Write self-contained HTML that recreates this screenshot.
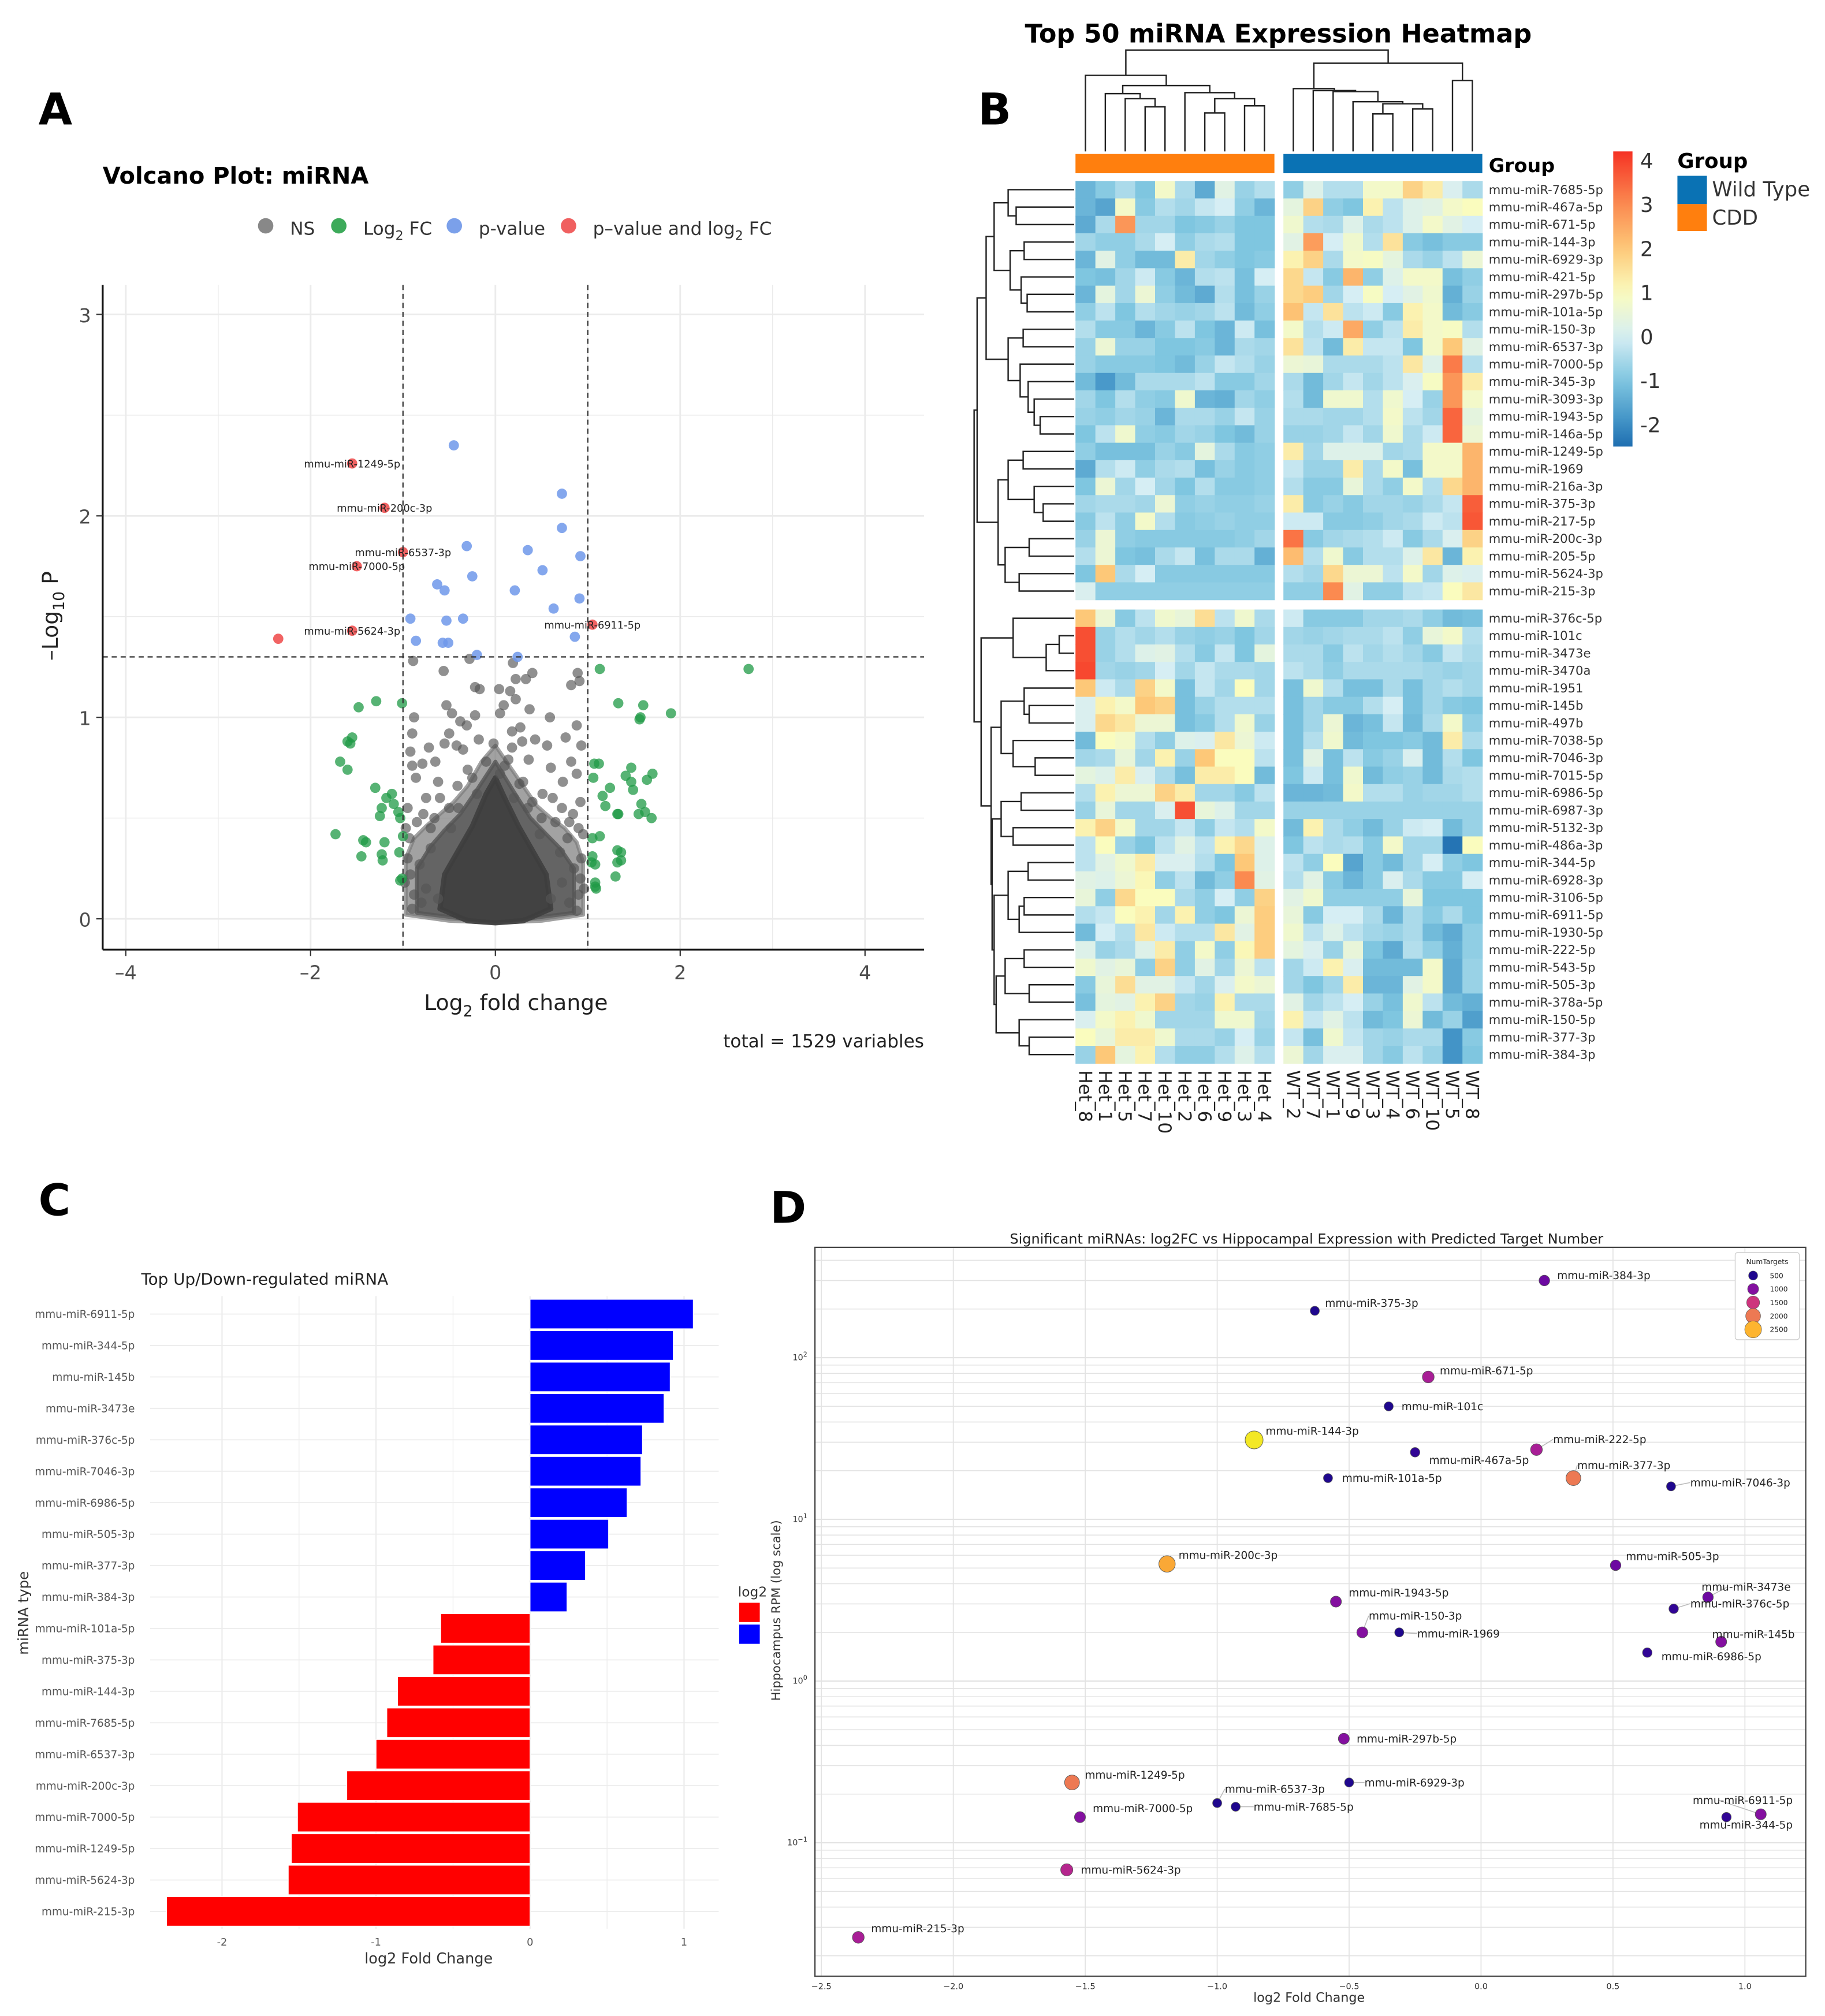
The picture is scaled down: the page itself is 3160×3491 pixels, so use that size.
<!DOCTYPE html>
<html><head><meta charset="utf-8">
<style>
html,body{margin:0;padding:0;background:#fff;}
svg{display:block;}
text{font-family:"DejaVu Sans","Liberation Sans",sans-serif;}
</style></head>
<body>
<svg id="fig" xmlns="http://www.w3.org/2000/svg" width="3160" height="3491" viewBox="0 0 1422 1571" preserveAspectRatio="none">
<rect x="0" y="0" width="1422" height="1571" fill="#fff"/>
<g id="pA"></g>
<g id="pB"></g>
<g id="pC"></g>
<g id="pD"></g>
</svg>
<script>
// ---------- Panel A data ----------
const redPts=[[-1.55,2.26],[-1.2,2.04],[-1.0,1.82],[-1.5,1.75],[-1.55,1.43],[1.05,1.46],[-2.35,1.39]];
const redLabels=["mmu-miR-1249-5p","mmu-miR-200c-3p","mmu-miR-6537-3p","mmu-miR-7000-5p","mmu-miR-5624-3p","mmu-miR-6911-5p",""];
const bluePts=[[-0.45,2.35],[0.72,2.11],[0.72,1.94],[-0.31,1.85],[0.35,1.83],[0.92,1.80],[-0.25,1.70],[0.51,1.73],[-0.63,1.66],[-0.55,1.63],[0.21,1.63],[0.91,1.59],[0.63,1.54],[-0.92,1.49],[-0.53,1.48],[-0.35,1.49],[-0.86,1.38],[-0.57,1.37],[-0.51,1.37],[0.86,1.40],[-0.2,1.31],[0.24,1.30]];
const greenPts=[[-1.48,1.05],[-1.29,1.08],[-1.01,1.07],[-1.6,0.88],[-1.57,0.87],[-1.55,0.9],[-1.68,0.78],[-1.6,0.74],[-1.3,0.65],[-1.18,0.6],[-1.23,0.55],[-1.1,0.57],[-1.12,0.62],[-1.25,0.51],[-1.05,0.53],[-1.73,0.42],[-1.43,0.39],[-1.4,0.38],[-1.2,0.38],[-1.45,0.31],[-1.23,0.32],[-1.22,0.29],[-1.04,0.33],[-1.03,0.5],[-1.01,0.2],[-1.03,0.19],[-1.0,0.41],
[1.13,1.24],[2.74,1.24],[1.33,1.07],[1.6,1.06],[1.56,0.99],[1.57,1.0],[1.9,1.02],[1.07,0.77],[1.12,0.77],[1.47,0.75],[1.41,0.71],[1.7,0.72],[1.64,0.69],[1.47,0.68],[1.49,0.64],[1.16,0.61],[1.24,0.65],[1.19,0.56],[1.32,0.52],[1.33,0.52],[1.58,0.57],[1.62,0.53],[1.69,0.5],[1.55,0.52],[1.06,0.7],[1.13,0.41],[1.05,0.4],[1.05,0.31],[1.08,0.27],[1.32,0.34],[1.36,0.33],[1.36,0.29],[1.32,0.28],[1.3,0.21],[1.08,0.18],[1.08,0.16],[1.09,0.15],[1.04,0.28]];
const grayPts=[[-0.89,1.28],[-0.28,1.29],[0.19,1.27],[-0.56,1.23],[0.4,1.22],[0.89,1.22],[0.91,1.18],[0.82,1.16],[-0.22,1.15],[-0.17,1.14],[0.04,1.14],[0.16,1.13],[0.33,1.19],[0.22,1.19],[0.22,1.09],[0.09,1.06],[-0.53,1.06],[0.05,1.02],[-0.47,1.02],[0.37,1.04],[0.59,1.0],[-0.22,1.01],[-0.88,1.0],[-0.38,0.98],[-0.31,0.96],[0.18,0.93],[0.27,0.95],[0.88,0.96],[-0.9,0.92],[-0.5,0.92],[-0.18,0.89],[0.29,0.88],[0.43,0.89],[0.56,0.86],[-0.92,0.83],[-0.72,0.85],[-0.42,0.86],[-0.55,0.87],[-0.02,0.87],[0.18,0.85],[-0.35,0.84],[0.76,0.9],[0.93,0.86],[-0.65,0.78],[-0.9,0.76],[-0.79,0.77],[0.14,0.79],[0.36,0.79],[0.6,0.75],[0.82,0.78],[-0.3,0.74],[0.05,0.72],[-0.86,0.7],[-0.62,0.68],[0.73,0.68],[0.88,0.72],[-0.41,0.66],[0.26,0.67],[0.51,0.62],[-0.75,0.6],[0.4,0.58],[0.92,0.58],[-0.95,0.55],[0.84,0.52],[-0.85,0.48],[0.9,0.45],[-0.93,0.4],[0.78,0.4],[-0.7,0.45],[0.65,0.48],[-0.95,0.3],[0.93,0.3],[-0.92,0.22],[0.92,0.2],[-0.88,0.12],[0.9,0.12],[-0.8,0.08],[0.8,0.08],[-0.7,0.35],[0.7,0.33],[-0.82,0.27],[0.85,0.25],[-0.5,0.55],[0.5,0.5],[-0.2,0.62],[0.2,0.6],
[-0.6,0.6],[0.62,0.6],[-0.4,0.55],[0.35,0.55],[-0.78,0.52],[0.72,0.55],[-0.66,0.5],[0.8,0.48],[-0.97,0.45],[0.95,0.42],[-0.98,0.18],[0.96,0.15],[-0.9,0.05],[0.88,0.04],[-0.75,0.15],[0.72,0.18],[-0.62,0.1],[0.6,0.1],[-0.1,0.78],[0.1,0.76],[-0.25,0.7],[0.3,0.68],[-0.48,0.45],[0.48,0.42]];
const cloudOuter=[[-0.97,0.02],[-0.97,0.3],[-0.88,0.4],[-0.75,0.46],[-0.6,0.52],[-0.45,0.58],[-0.3,0.66],[-0.15,0.78],[0,0.86],[0.15,0.76],[0.3,0.66],[0.45,0.56],[0.6,0.5],[0.75,0.45],[0.88,0.38],[0.95,0.28],[0.95,0.02],[0.5,-0.01],[0,-0.02],[-0.5,-0.01]];
const cloudMid=[[-0.85,0.03],[-0.85,0.25],[-0.7,0.36],[-0.55,0.44],[-0.38,0.52],[-0.2,0.64],[0,0.78],[0.2,0.63],[0.38,0.5],[0.55,0.42],[0.7,0.35],[0.85,0.25],[0.85,0.03],[0,-0.02]];
const cloudInner=[[-0.6,0.05],[-0.55,0.22],[-0.4,0.34],[-0.25,0.46],[-0.1,0.62],[0,0.7],[0.1,0.6],[0.25,0.46],[0.4,0.34],[0.55,0.22],[0.6,0.05],[0.3,-0.01],[0,-0.02],[-0.3,-0.01]];
const aXTicks=[-4,-2,0,2,4];
const aYTicks=[0,1,2,3];

// ---------- Panel B data ----------
const rowNames=["mmu-miR-7685-5p","mmu-miR-467a-5p","mmu-miR-671-5p","mmu-miR-144-3p","mmu-miR-6929-3p","mmu-miR-421-5p","mmu-miR-297b-5p","mmu-miR-101a-5p","mmu-miR-150-3p","mmu-miR-6537-3p","mmu-miR-7000-5p","mmu-miR-345-3p","mmu-miR-3093-3p","mmu-miR-1943-5p","mmu-miR-146a-5p","mmu-miR-1249-5p","mmu-miR-1969","mmu-miR-216a-3p","mmu-miR-375-3p","mmu-miR-217-5p","mmu-miR-200c-3p","mmu-miR-205-5p","mmu-miR-5624-3p","mmu-miR-215-3p",
"mmu-miR-376c-5p","mmu-miR-101c","mmu-miR-3473e","mmu-miR-3470a","mmu-miR-1951","mmu-miR-145b","mmu-miR-497b","mmu-miR-7038-5p","mmu-miR-7046-3p","mmu-miR-7015-5p","mmu-miR-6986-5p","mmu-miR-6987-3p","mmu-miR-5132-3p","mmu-miR-486a-3p","mmu-miR-344-5p","mmu-miR-6928-3p","mmu-miR-3106-5p","mmu-miR-6911-5p","mmu-miR-1930-5p","mmu-miR-222-5p","mmu-miR-543-5p","mmu-miR-505-3p","mmu-miR-378a-5p","mmu-miR-150-5p","mmu-miR-377-3p","mmu-miR-384-3p"];
const colNames=["Het_8","Het_1","Het_5","Het_7","Het_10","Het_2","Het_6","Het_9","Het_3","Het_4","WT_2","WT_7","WT_1","WT_9","WT_3","WT_4","WT_6","WT_10","WT_5","WT_8"];
const heatValues=[
[-1.3,-0.9,-0.5,-1,0.8,-0.5,-1.5,0.3,-0.7,-0.4,-0.8,0.2,-0.4,-0.4,0.8,0.8,1.8,1.3,0.1,-0.5],
[-1.3,-1.6,0.8,-0.9,-0.4,-0.6,-0.2,0,-0.8,-1.3,0.4,1.8,-0.8,-1,1.2,-0.3,0.2,0.3,0.8,1],
[-1.5,-0.5,2.8,-0.6,-0.6,-1,-0.9,-0.7,-1,-1,0.7,-0.4,-0.5,0.2,-0.5,-0.3,0.2,0.8,0.3,0],
[-0.6,-0.8,-0.8,-0.5,0,-0.8,-0.5,-0.4,-1,-1,0.3,2.7,0,0.7,-0.4,1.5,-0.9,-1.1,-0.9,-0.9],
[-1.3,0.3,-0.8,-1.2,-1.2,1.3,-0.6,-0.8,-1,-0.9,1.2,1.8,-0.5,0.8,0.9,0.4,-0.5,-0.7,-0.3,0.6],
[-1,-1.1,-0.6,-0.1,-0.9,-1.3,-0.4,-0.3,-1.1,0,1.7,-0.2,-0.9,2.3,-0.8,0.2,0.8,0.8,-1.1,-0.8],
[-1.3,0.4,-0.6,0.6,-0.8,-1.2,-1.5,-0.4,-1.1,-0.7,1.7,1.9,-0.6,0,0.9,0,0.3,0.7,-1.4,-0.7],
[-0.8,-0.3,-1,-0.4,-0.6,-0.7,-0.6,-0.3,-1.2,-0.8,2.1,-0.2,1.5,-0.3,-0.1,-0.9,1.2,0.8,-1.2,-0.9],
[-0.4,-0.9,-0.9,-1.3,-0.9,-0.3,-1,-1.3,-0.1,-1.1,0.8,-0.4,-0.1,2.5,-0.8,-0.3,1.3,0.8,0.9,-0.4],
[-0.7,0.6,-0.7,-0.7,-1,-1,-0.9,-1.3,-0.5,-0.6,1.5,-0.3,-1.2,1.3,-0.2,-0.2,-1,0.8,2,0.3],
[-0.7,-0.9,-0.9,-0.9,-1,-1.2,-0.7,-0.2,-0.4,-0.7,0.6,0.5,-0.5,-0.5,-0.5,-0.3,1.4,0.2,3.2,-0.4],
[-1.2,-1.8,-1.2,-0.5,-0.5,-0.5,-0.3,-0.9,-0.9,-0.6,-0.5,-1.2,-0.6,-0.2,-0.6,-0.3,0.1,0.9,2.8,1.3],
[-0.6,-1,-0.4,-0.8,-0.9,0.7,-1.3,-1.4,-0.6,-0.8,-0.4,-1.2,0.7,0.7,-0.4,0.7,0,-0.7,2.8,0.8],
[-0.7,-0.8,-0.6,-0.7,-1.3,-0.5,-0.5,-0.7,-0.2,-0.7,-0.5,-0.5,-0.6,-0.6,-0.4,0.8,-0.3,-0.6,3.5,0.4],
[-1,-0.3,0.7,-0.8,-0.9,-0.6,-0.7,-1,-1.2,-0.7,-0.7,-0.7,-0.6,-0.2,-0.6,0.7,-0.5,-0.1,3.5,0.6],
[-0.8,-1.1,-1.1,-1.1,-0.7,-0.9,0.4,-0.5,-0.9,-0.8,1.3,-0.6,0.2,0.2,0.2,-0.6,-0.5,0.8,0.8,2.3],
[-1.5,-0.4,-0.1,-0.8,-0.5,-0.4,-1.1,-0.7,-0.9,-0.8,-0.2,-0.7,-0.7,1.3,-0.5,0.8,-1.1,0.8,0.8,2.3],
[-1,0.6,-0.6,0,-0.6,-1,-0.4,-0.9,-0.9,-0.8,-0.4,-0.9,-0.9,0.5,-0.5,-0.8,0.8,-0.4,1.7,2.3],
[-0.6,-0.5,-0.5,-0.6,0.6,-0.8,-0.7,-0.8,-0.8,-0.7,1.3,-0.9,-0.7,-0.9,-0.6,-0.6,-0.7,-0.5,-0.2,3.6],
[-0.9,-0.3,-0.8,0.8,-0.4,-0.9,-0.8,-0.7,-0.8,-0.8,-0.1,-0.1,-0.9,-0.9,-0.8,-0.6,-0.5,-0.1,-0.3,3.7],
[-0.7,0.6,-0.8,-0.9,-0.9,-0.9,-0.9,-0.9,-0.8,-0.6,3.3,-0.9,-0.6,-0.5,-0.4,-0.1,-0.9,-0.5,0.1,1.8],
[-0.4,0.6,-1,-1.1,-0.5,-0.2,-1.1,-0.5,-0.5,-1.4,2.2,-0.4,0.7,-0.9,-0.4,-0.4,0.2,1.4,-1.3,1.2],
[-1,2,-0.5,0,-0.9,-0.9,-0.9,-0.9,-0.9,-0.9,-0.4,-0.6,1.7,0.6,0.6,-0.3,0.8,-0.6,0.2,0.1],
[0.1,-0.8,-0.8,-0.8,-0.8,-0.8,-0.8,-0.8,-0.8,-0.8,-0.8,-0.8,3,0.3,-0.8,-0.8,-0.3,-0.2,1,1.4],
[2,0.6,-0.9,-0.3,0.7,0.5,1.6,-0.3,0.7,-0.5,-0.1,-0.9,-0.9,-0.9,-0.6,-0.6,-0.5,-0.8,-1.2,-1.1],
[3.8,-0.7,-0.4,-0.6,-0.4,-0.7,-0.8,-0.7,-1,-0.6,-0.6,-0.7,-0.6,-0.5,-0.5,-0.3,-0.8,0.5,0.8,-0.4],
[3.8,-0.7,-0.4,0.2,0.3,-0.4,-0.9,-0.2,-1,0.4,-0.5,-0.5,-0.9,-0.3,-0.6,-0.4,-0.6,-0.9,-0.2,-0.5],
[3.9,-0.6,-0.7,-0.6,0,-0.6,-0.2,-0.5,-0.5,-0.6,-0.3,-0.5,-0.8,-0.5,-0.5,-0.5,-0.5,-0.6,-0.7,-0.6],
[2,-0.1,-0.5,1.8,0.8,-1.1,-0.2,-0.6,1,-0.6,-1.1,0.7,-0.4,-1.1,-1.1,-0.5,-1.1,-0.6,-0.4,-0.6],
[0.1,1.2,0.8,2,1.8,-1.1,-0.7,-0.4,-0.4,-0.4,-1.1,-0.6,-0.9,-0.9,-0.4,0,-1.1,-0.6,-0.9,-1],
[0.1,1.7,1.4,0.6,0.6,-1.1,-0.9,-0.4,0.7,-0.7,-1.1,-0.6,0.6,-1.3,-1.1,-0.2,-1.2,-0.5,0.8,-0.8],
[-1.2,1,0.8,-0.4,-0.8,0.2,0.1,1.4,0.6,-0.1,-1.1,-0.4,0.7,-1.2,-1,-1,-0.9,-1.2,1.3,-0.5],
[-0.6,-0.5,0.5,-0.6,1.2,-0.7,2,1,1,-0.3,-1.1,0.3,-1.1,-0.3,-0.9,-0.7,0.1,-1.2,-0.4,-1],
[0.4,0.2,1.3,0.1,-0.5,-1.1,1.3,1.3,1,-1.2,-1,-0.1,-1.1,0.7,-1.2,-0.8,-0.7,-1.2,-0.5,-0.4],
[-0.4,1.2,0.6,0.6,1.8,1.3,-0.6,-0.6,-0.9,-0.3,-1.3,-1.3,-1.2,0.8,-0.4,-0.4,-0.7,-0.6,-0.6,-0.4],
[-0.7,0.5,-0.6,-0.6,0.1,3.8,0.5,0.2,-0.6,-0.6,-0.7,-0.7,-0.7,-0.7,-0.7,-0.7,-0.7,-0.7,-0.7,-0.7],
[1.2,1.8,0.8,-0.6,-0.6,-0.2,-0.8,-0.2,-0.4,0.8,-1.2,1.2,-0.5,-0.8,-1.2,-0.7,-0.1,0,-1.2,-0.7],
[-0.3,1,-0.7,-1,-0.3,0.3,-0.3,1.2,1.7,0.2,-1,-0.3,-0.5,-0.4,-0.9,0.8,-0.6,-0.6,-2.4,1],
[-0.3,0.3,0.7,1.3,0.1,0.1,-0.4,-1,2,0.2,-0.3,-0.8,1,-1.6,-0.9,-1.2,-0.6,0,-0.8,-1],
[0.3,0.2,0.6,1.1,-0.8,-0.3,-1.2,-0.8,3,0.3,-0.4,0.3,-0.9,-1.3,-0.9,0.1,-0.5,-0.9,-0.9,0],
[0.5,-0.8,1.7,1,1,-0.5,-0.8,0,-0.8,1.8,0.3,0.7,-0.8,-0.8,-0.8,-0.8,0.5,-1,-1,-1],
[-0.4,-0.2,1,1.2,-0.6,1.2,-0.8,-1,0.6,1.9,0.5,-0.9,0,0,-0.5,-1.3,-0.5,-0.9,-0.5,-1],
[-1.2,0,-0.4,1.4,-0.1,-0.4,-0.4,1.4,0.3,1.9,0.7,-0.3,0.2,-0.3,-0.6,-0.7,-0.5,-1.2,-1.5,-0.8],
[0.2,-0.7,-0.5,0.2,1.3,-0.8,0.8,-0.8,1.1,1.9,0.4,0.1,-0.7,0.5,-1,-1.5,-0.4,-0.8,-1.4,-0.8],
[0.7,0.3,0.5,-0.8,1.8,-0.8,0.3,-0.6,0.6,-0.3,-0.6,-0.1,1.2,0.1,-1.2,-1.2,-1.2,0.8,-1.5,-0.7],
[-0.9,0.5,1.6,0.3,0.3,-0.2,-0.6,0.1,0.8,0.6,-0.6,-1,-0.6,1.3,-1.3,-1.3,0.3,0.8,-1.5,-0.7],
[-1.1,0.4,0.3,1.2,1.8,-0.6,-0.7,1.2,-0.5,-0.5,0.3,-0.6,-0.3,0,-0.7,-1.1,0.7,-0.3,-1.2,-1.4],
[0.1,0.8,1.2,0.7,-0.6,-0.6,-0.6,0.7,0.7,-0.6,1.2,-0.2,0.3,-0.3,-1.2,-1,0.6,-1.2,-0.7,-1.7],
[1,0.5,1.3,1.3,0.7,-0.5,-0.5,-0.7,0,-0.7,-0.2,-1.1,0.7,-0.2,-0.6,-0.7,-0.5,-0.5,-1.9,-0.9],
[-0.7,2,0.4,1.2,-0.4,-0.8,-0.8,-0.4,0.2,-0.4,0.6,-0.6,0.1,0.1,-0.6,-0.9,-0.3,-0.7,-1.9,-1]];
const rowTree=[[[[[0,[1,2,.58],.66],[[3,4,.5],[5,[6,7,.47],.53],.64],.8],[[8,9,.51],[10,[11,[12,[13,14,.34],.4],.46],.54],.66],.88],[[[15,16,.51],[17,[18,19,.31],.4],.66],[[20,21,.45],[22,23,.55],.69],.76],.97],
[[24,[[25,26,.15],27,.28],.61],[[[28,[29,30,.45],.5],[31,[32,33,.39],.61],.73],[[[34,35,.53],[36,37,.61],.73],[[[38,39,.46],[[40,41,.5],42,.55],.66],[[[43,44,.5],[45,46,.45],.69],[47,[48,49,.45],.55],.78],.8],.82],.83],.93],1.0];
const colTree=[[0,[[1,[2,[3,4,.44],.52],.57],[5,[[6,7,.38],[8,9,.45],.52],.58],.65],.75],[[10,[11,[12,[13,[[14,15,.37],[16,17,.42],.47],.49],.59],.6],.62],[18,19,.7],.87],1.0];
const cbTicks=[4,3,2,1,0,-1,-2];

// ---------- Panel C data ----------
const barNames=["mmu-miR-6911-5p","mmu-miR-344-5p","mmu-miR-145b","mmu-miR-3473e","mmu-miR-376c-5p","mmu-miR-7046-3p","mmu-miR-6986-5p","mmu-miR-505-3p","mmu-miR-377-3p","mmu-miR-384-3p","mmu-miR-101a-5p","mmu-miR-375-3p","mmu-miR-144-3p","mmu-miR-7685-5p","mmu-miR-6537-3p","mmu-miR-200c-3p","mmu-miR-7000-5p","mmu-miR-1249-5p","mmu-miR-5624-3p","mmu-miR-215-3p"];
const barValues=[1.06,0.93,0.91,0.87,0.73,0.72,0.63,0.51,0.36,0.24,-0.58,-0.63,-0.86,-0.93,-1.0,-1.19,-1.51,-1.55,-1.57,-2.36];
const cTicks=[-2,-1,0,1];

// ---------- Panel D data ----------
const dNames=["mmu-miR-384-3p","mmu-miR-375-3p","mmu-miR-671-5p","mmu-miR-101c","mmu-miR-144-3p","mmu-miR-467a-5p","mmu-miR-222-5p","mmu-miR-377-3p","mmu-miR-101a-5p","mmu-miR-7046-3p","mmu-miR-200c-3p","mmu-miR-505-3p","mmu-miR-3473e","mmu-miR-376c-5p","mmu-miR-1943-5p","mmu-miR-150-3p","mmu-miR-1969","mmu-miR-145b","mmu-miR-6986-5p","mmu-miR-297b-5p","mmu-miR-6929-3p","mmu-miR-1249-5p","mmu-miR-6537-3p","mmu-miR-7685-5p","mmu-miR-7000-5p","mmu-miR-6911-5p","mmu-miR-344-5p","mmu-miR-5624-3p","mmu-miR-215-3p"];
const dFC=[0.24,-0.63,-0.2,-0.35,-0.86,-0.25,0.21,0.35,-0.58,0.72,-1.19,0.51,0.86,0.73,-0.55,-0.45,-0.31,0.91,0.63,-0.52,-0.5,-1.55,-1.0,-0.93,-1.52,1.06,0.93,-1.57,-2.36];
const dRPM=[300,195,76,50,31,26,27,18,18,16,5.3,5.2,3.3,2.8,3.1,2.0,2.0,1.75,1.5,0.44,0.236,0.236,0.176,0.167,0.144,0.15,0.144,0.068,0.026];
const dTargets=[900,500,1200,500,2800,600,1200,2000,500,500,2400,900,900,600,1000,1000,500,1000,600,1000,500,2000,500,500,1000,1000,600,1300,1200];
const dLegendVals=[500,1000,1500,2000,2500];
const dXTicks=[-2.5,-2.0,-1.5,-1.0,-0.5,0.0,0.5,1.0];
const dYExp=[-1,0,1,2];
// label offsets (layout only)
const dLabDX=[10,8,9,10,9,11,13,3,11,15,9,8,-5,13,10,5,14,-7,11,10,12,10,6,14,10,-53,-21,11,10];
const dLabDY=[-4,-6,-5,0,-7,6,-8,-10,0,-3,-7,-7,-8,-4,-7,-13,1,-6,3,0,0,-6,-11,0,-7,-11,6,0,-7];

// ---------- helpers ----------
const NS='http://www.w3.org/2000/svg';
function mk(tag,parent){const e=document.createElementNS(NS,tag);parent.appendChild(e);return e;}
function att(e,o){for(const k in o)e.setAttribute(k,o[k]);return e;}
function txt(parent,x,y,s,size,opts){const t=mk('text',parent);att(t,{x:x,y:y,'font-size':size});if(opts)att(t,opts);t.textContent=s;return t;}
function line(parent,x1,y1,x2,y2,stroke,w,extra){const l=mk('line',parent);att(l,{x1:x1,y1:y1,x2:x2,y2:y2,stroke:stroke,'stroke-width':w});if(extra)att(l,extra);return l;}

// ================= PANEL A =================
(function(){
const g=document.getElementById('pA');
const xA=v=>386+v*72, yA=v=>716-v*157;
const L=80,R=720,T=222,B=740;
let t=txt(g,30,97,'A',34,{'font-weight':'bold'});


t=txt(g,80,143,'Volcano Plot: miRNA',18,{'font-weight':'bold'});


const legItems=[['NS','#888'],['Log\u2082 FC','#3daa5a'],['p-value','#7ba0ea'],['p\u2013value and log\u2082 FC','#f06060']];
const legX=[207,264,354,443];
legItems.forEach((it,i)=>{const c=mk('circle',g);att(c,{cx:legX[i],cy:176,r:6,fill:it[1]});


const tt=txt(g,legX[i]+19,183,'',14,{fill:'#333'});


if(i==1){tt.innerHTML='Log<tspan font-size="10" dy="4">2</tspan><tspan dy="-4"> FC</tspan>';}
else if(i==3){tt.innerHTML='p\u2013value and log<tspan font-size="10" dy="4">2</tspan><tspan dy="-4"> FC</tspan>';}
else tt.textContent=it[0];});
[-4,-3,-2,-1,0,1,2,3,4].forEach(v=>{const l=line(g,xA(v),T,xA(v),B,'#ebebeb',v%2==0?1.3:0.7);});
[0,0.5,1,1.5,2,2.5,3].forEach(v=>{const l=line(g,L,yA(v),R,yA(v),'#ebebeb',v%1==0?1.3:0.7);});
function poly(arr,fill,op,sw){const p=mk('polygon',g);att(p,{points:arr.map(d=>xA(d[0])+','+yA(d[1])).join(' '),fill:fill,'fill-opacity':op,stroke:fill,'stroke-width':sw,'stroke-opacity':op,'stroke-linejoin':'round'});return p;}
let p=poly(cloudOuter,'#7a7a7a',0.7,3);


p=poly(cloudMid,'#555',0.8,3);


p=poly(cloudInner,'#3e3e3e',0.9,4);


function pts(arr,fill,op,name){arr.forEach(d=>{const c=mk('circle',g);att(c,{cx:xA(d[0]),cy:yA(d[1]),r:4,fill:fill,'fill-opacity':op});

});}
pts(grayPts,'#555',0.65,'ns-point');
pts(greenPts,'#1f9a46',0.75,'log2fc-point');
pts(bluePts,'#6f98ea',0.85,'pvalue-point');
pts(redPts,'#f05252',0.9,'significant-point');
[-1,1].forEach(v=>{const l=line(g,xA(v),T,xA(v),B,'#333',1,{'stroke-dasharray':'4,3'});});
let hl=line(g,L,yA(1.3),R,yA(1.3),'#333',1,{'stroke-dasharray':'4,3'});


redPts.forEach((d,i)=>{if(!redLabels[i])return;const tt=txt(g,xA(d[0]),yA(d[1])+3,redLabels[i],8,{'text-anchor':'middle',fill:'#222'});

});
let ax=line(g,L,T,L,B,'#111',1.5);


ax=line(g,L,B,R,B,'#111',1.5);


aXTicks.forEach(v=>{line(g,xA(v),B,xA(v),B+5,'#333',1);const tt=txt(g,xA(v),B+23,String(v).replace('-','\u2013'),15,{'text-anchor':'middle',fill:'#4d4d4d'});

});
aYTicks.forEach(v=>{line(g,L-5,yA(v),L,yA(v),'#333',1);const tt=txt(g,L-9,yA(v)+6,String(v),15,{'text-anchor':'end',fill:'#4d4d4d'});

});
t=txt(g,402,787,'',17,{'text-anchor':'middle',fill:'#222'});
t.innerHTML='Log<tspan font-size="12" dy="5">2</tspan><tspan dy="-5"> fold change</tspan>';


t=txt(g,0,0,'',17,{'text-anchor':'middle',fill:'#222',transform:'translate(45,480) rotate(-90)'});
t.innerHTML='\u2013Log<tspan font-size="12" dy="5">10</tspan><tspan dy="-5"> P</tspan>';


t=txt(g,720,816,'total = 1529 variables',14,{'text-anchor':'end',fill:'#222'});


})();

// ================= PANEL B =================
(function(){
const g=document.getElementById('pB');
const stops=[[-2.5,[31,110,176]],[-2,[60,142,196]],[-1,[127,198,224]],[0,[214,238,244]],[1,[250,252,190]],[2,[253,200,120]],[3,[251,138,80]],[4.2,[245,50,36]]];
function col(v){if(v<=stops[0][0])return 'rgb('+stops[0][1]+')';for(let i=1;i<stops.length;i++){if(v<=stops[i][0]){const a=stops[i-1],b=stops[i],f=(v-a[0])/(b[0]-a[0]);return 'rgb('+a[1].map((c,k)=>Math.round(c+(b[1][k]-c)*f)).join(',')+')';}}return 'rgb('+stops[stops.length-1][1]+')';}
const cw=15.5, rh=13.6;
const colX=j=>j<10?838+j*cw:1000+(j-10)*cw;
const rowY=i=>i<24?141+i*rh:475+(i-24)*rh;
let t=txt(g,762,97,'B',34,{'font-weight':'bold'});


t=txt(g,996,33,'Top 50 miRNA Expression Heatmap',20,{'font-weight':'bold','text-anchor':'middle'});


heatValues.forEach((row,i)=>row.forEach((v,j)=>{const r=mk('rect',g);att(r,{x:colX(j),y:rowY(i),width:cw+0.3,height:rh+0.3,fill:col(v)});

}));
rowNames.forEach((n,i)=>{const tt=txt(g,1160,rowY(i)+rh/2+3.3,n,9.5,{fill:'#333'});

});
colNames.forEach((n,j)=>{const x=colX(j)+cw/2-5;const tt=txt(g,0,0,n,14,{fill:'#222',transform:'translate('+x+',834) rotate(90)'});

});
let r=mk('rect',g);att(r,{x:838,y:120,width:155,height:15,fill:'#ff7f0e'});


r=mk('rect',g);att(r,{x:1000,y:120,width:155,height:15,fill:'#0a72b4'});


t=txt(g,1160,134,'Group',15,{'font-weight':'bold'});


function drawTree(node,leafPos,hPos,horizontal,name){
 function rec(n){if(typeof n==='number')return [leafPos(n),0];
  const a=rec(n[0]),b=rec(n[1]),h=n[2];const hp=hPos(h);
  const pth=mk('path',g);
  let d;
  if(horizontal){d='M'+hPos(a[1])+','+a[0]+'H'+hp+'V'+b[0]+'H'+hPos(b[1]);}
  else{d='M'+a[0]+','+hPos(a[1])+'V'+hp+'H'+b[0]+'V'+hPos(b[1]);}
  att(pth,{d:d,fill:'none',stroke:'#222','stroke-width':1.1});
  
  
  return [(a[0]+b[0])/2,h];}
 rec(node);}
drawTree(rowTree,i=>rowY(i)+rh/2,h=>837-h*78,true,'row-dendrogram-branch');
drawTree(colTree,j=>colX(j)+cw/2,h=>118-h*79,false,'column-dendrogram-branch');
const defs=mk('defs',g);const lg=mk('linearGradient',defs);att(lg,{id:'cbg',x1:0,y1:1,x2:0,y2:0});
for(let k=0;k<=20;k++){const v=-2.5+6.7*k/20;const s=mk('stop',lg);att(s,{offset:(k/20),'stop-color':col(v)});}
const cbY=v=>348-(v+2.5)*(230/6.7);
r=mk('rect',g);att(r,{x:1257,y:118,width:15,height:230,fill:'url(#cbg)'});


cbTicks.forEach(v=>{const tt=txt(g,1278,cbY(v)+6,String(v),16,{fill:'#333'});

});
t=txt(g,1307,131,'Group',16,{'font-weight':'bold'});


r=mk('rect',g);att(r,{x:1307,y:137,width:23,height:22,fill:'#0a72b4'});


r=mk('rect',g);att(r,{x:1307,y:159,width:23,height:21,fill:'#ff7f0e'});


t=txt(g,1334,153,'Wild Type',16,{fill:'#333'});


t=txt(g,1334,175,'CDD',16,{fill:'#333'});


})();

// ================= PANEL C =================
(function(){
const g=document.getElementById('pC');
const xC=v=>413+v*120, yC=i=>1024+i*24.5;
let t=txt(g,30,947,'C',34,{'font-weight':'bold'});


t=txt(g,110,1001,'Top Up/Down-regulated miRNA',12.5,{fill:'#222'});


[-2,-1.5,-1,-0.5,0,0.5,1].forEach(v=>{const l=line(g,xC(v),1010,xC(v),1503,'#ececec',v%1==0?1:0.6);});
barNames.forEach((n,i)=>{const l=line(g,117,yC(i),560,yC(i),'#ececec',0.8);});
barValues.forEach((v,i)=>{const r=mk('rect',g);const x0=Math.min(xC(0),xC(v));att(r,{x:x0,y:yC(i)-11.5,width:Math.abs(xC(v)-xC(0)),height:23,fill:v>0?'#0000ff':'#ff0000',stroke:'#fff','stroke-width':0.6});

});
barNames.forEach((n,i)=>{const tt=txt(g,105,yC(i)+3,n,8.3,{'text-anchor':'end',fill:'#555'});

});
cTicks.forEach(v=>{const tt=txt(g,xC(v),1516,String(v),8,{'text-anchor':'middle',fill:'#555'});

});
t=txt(g,334,1530,'log2 Fold Change',11.5,{'text-anchor':'middle',fill:'#333'});


t=txt(g,0,0,'miRNA type',11,{'text-anchor':'middle',fill:'#333',transform:'translate(22,1257) rotate(-90)'});


t=txt(g,575,1244,'log2',10.5,{fill:'#333'});


let r=mk('rect',g);att(r,{x:576,y:1249,width:16,height:15,fill:'#ff0000'});


r=mk('rect',g);att(r,{x:576,y:1266,width:16,height:15,fill:'#0000ff'});


})();

// ================= PANEL D =================
(function(){
const g=document.getElementById('pD');
const xD=v=>1154+v*205.6, yD=v=>1310-Math.log10(v)*126;
const L=635,R=1407,T=972,B=1540;
function tcol(n){const s=[[400,[13,8,135]],[800,[84,2,163]],[1100,[156,23,158]],[1500,[205,52,125]],[2000,[237,121,83]],[2500,[253,180,47]],[2900,[240,249,33]]];
 if(n<=s[0][0])return 'rgb('+s[0][1]+')';for(let i=1;i<s.length;i++)if(n<=s[i][0]){const a=s[i-1],b=s[i],f=(n-a[0])/(b[0]-a[0]);return 'rgb('+a[1].map((c,k)=>Math.round(c+(b[1][k]-c)*f)).join(',')+')';}return 'rgb(240,249,33)';}
const rad=n=>2.8+n/500*0.75;
let t=txt(g,600,953,'D',34,{'font-weight':'bold'});


t=txt(g,1018,969,'Significant miRNAs: log2FC vs Hippocampal Expression with Predicted Target Number',10.8,{'text-anchor':'middle',fill:'#222'});


dXTicks.forEach(v=>{const l=line(g,xD(v),T,xD(v),B,'#e3e3e3',0.8);});
for(let e=-2;e<=2;e++){for(let k=1;k<=9;k++){const val=k*Math.pow(10,e);const y=yD(val);if(y<T||y>B)continue;const l=line(g,L,y,R,y,'#e3e3e3',k==1?1:0.7);}}
let fr=mk('rect',g);att(fr,{x:L,y:T,width:R-L,height:B-T,fill:'none',stroke:'#444','stroke-width':1});


dFC.forEach((v,i)=>{if(Math.abs(dLabDX[i])<12&&Math.abs(dLabDY[i])<8)return;const l=line(g,xD(v),yD(dRPM[i]),xD(v)+dLabDX[i]+(dLabDX[i]<0?20:0),yD(dRPM[i])+dLabDY[i],'#bbb',0.7);});
dFC.forEach((v,i)=>{const c=mk('circle',g);att(c,{cx:xD(v),cy:yD(dRPM[i]),r:rad(dTargets[i]),fill:tcol(dTargets[i]),stroke:'#555','stroke-width':0.4});


const tt=txt(g,xD(v)+dLabDX[i],yD(dRPM[i])+dLabDY[i]+3,dNames[i],8.3,{fill:'#222'});

});
dXTicks.forEach(v=>{const tt=txt(g,xD(v),1550,v.toFixed(1).replace('-','\u2212'),6.5,{'text-anchor':'middle',fill:'#333'});

});
dYExp.forEach(e=>{const tt=txt(g,629,yD(Math.pow(10,e))+2,'',6.5,{'text-anchor':'end',fill:'#333'});
tt.innerHTML='10<tspan font-size="5" dy="-3">'+(e<0?'\u2212':'')+Math.abs(e)+'</tspan>';

});
t=txt(g,1020,1560,'log2 Fold Change',10,{'text-anchor':'middle',fill:'#333'});


t=txt(g,0,0,'Hippocampus RPM (log scale)',9.5,{'text-anchor':'middle',fill:'#333',transform:'translate(608,1255) rotate(-90)'});


let lb=mk('rect',g);att(lb,{x:1352,y:976,width:50,height:68,fill:'#fff',stroke:'#ccc','stroke-width':0.6,rx:2});


t=txt(g,1377,985,'NumTargets',5.5,{'text-anchor':'middle',fill:'#222'});


dLegendVals.forEach((n,k)=>{const y=994+k*10.5;const c=mk('circle',g);att(c,{cx:1366,cy:y,r:rad(n),fill:tcol(n),stroke:'#555','stroke-width':0.3});


const tt=txt(g,1379,y+2,String(n),5.5,{fill:'#222'});

});
})();
</script>
</body></html>
